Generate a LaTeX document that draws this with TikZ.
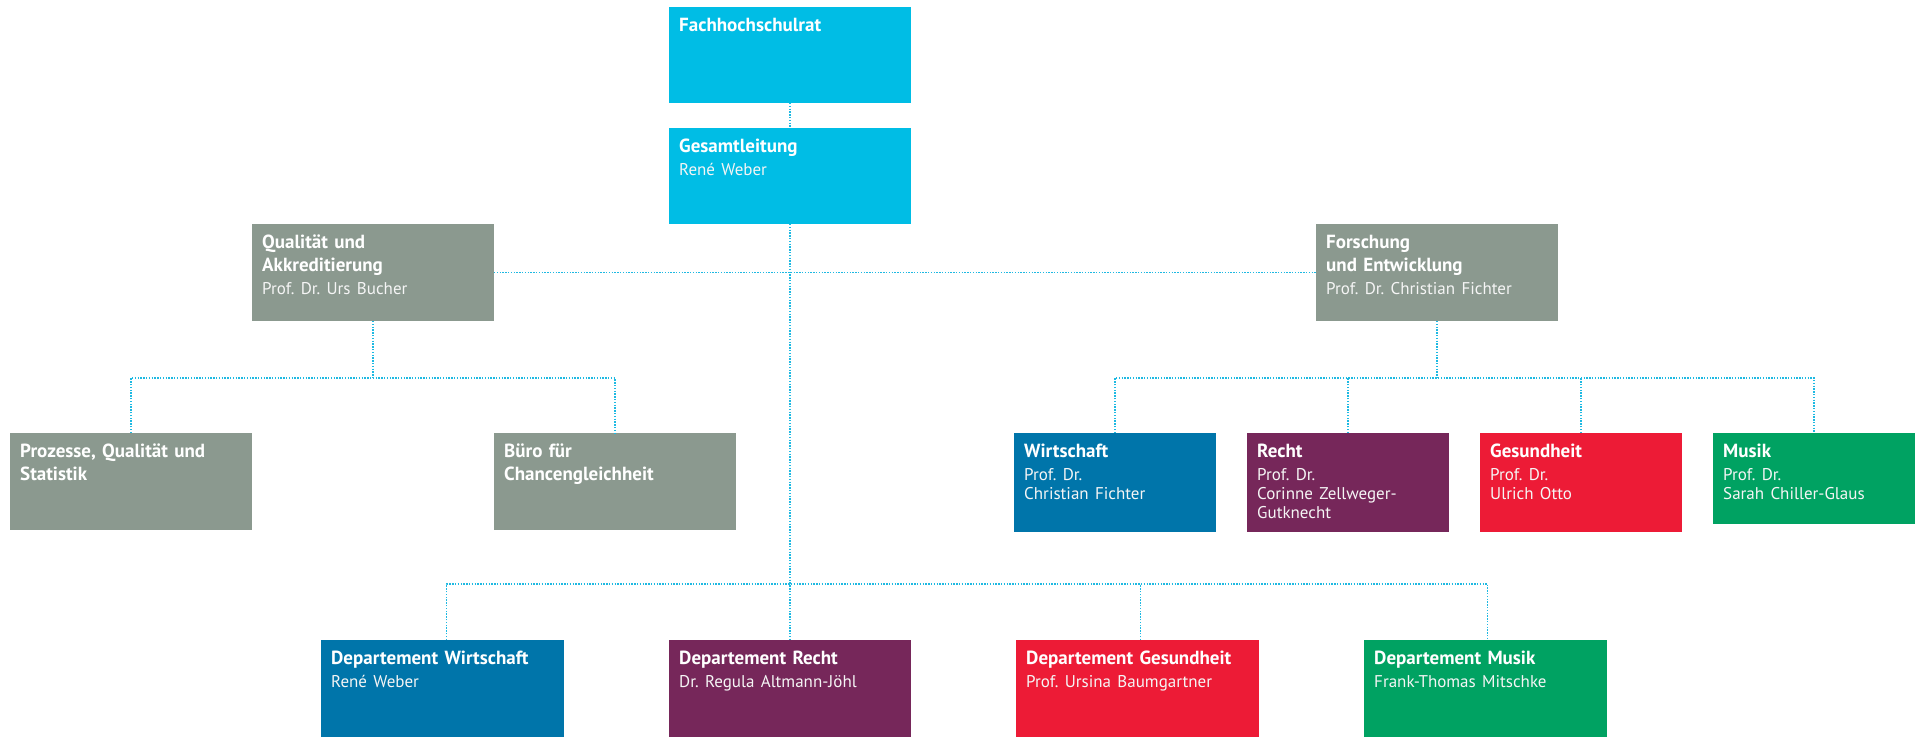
\documentclass[tikz,border=0pt]{standalone}
\usepackage{fontspec}
\setmainfont{PT Sans}
\frenchspacing
\definecolor{cCyan}{HTML}{00BDE5}
\definecolor{cGrey}{HTML}{8B998F}
\definecolor{cBlue}{HTML}{0075AA}
\definecolor{cPurple}{HTML}{76275A}
\definecolor{cRed}{HTML}{ED1B36}
\definecolor{cGreen}{HTML}{00A262}
\definecolor{cLine}{HTML}{1EB9E2}
\newcommand\ttl[1]{{\bfseries\fontsize{19}{23}\selectfont #1\par}}
\newcommand\nm[1]{\vspace{4pt}{\fontsize{17}{19}\selectfont\color{white!96!black} #1\par}}
\newcommand\orgbox[7]{%
  \node[orgbox, fill=#6, minimum width=#4pt, minimum height=#5pt] (#1) at (#2,#3) {};
  \node[boxtext] (#1-t) at (#2+10,#3+24) {#7};
}
\begin{document}
\begin{tikzpicture}[x=1pt, y=-1pt,
  orgbox/.style={draw=none, rectangle, inner sep=0pt, outer sep=0pt, anchor=north west},
  boxtext/.style={anchor=base west, inner sep=0pt, text width=236pt, align=left,
    text=white, font=\fontsize{19}{23}\selectfont},
  conn/.style={draw=cLine, line width=1.5pt, dash pattern=on 1.4pt off 1.4pt}]
\useasboundingbox (0,0) rectangle (1921,737);

% top
\orgbox{fhr}{669}{7}{242}{96}{cCyan}{\ttl{Fachhochschulrat}}
\orgbox{gl}{669}{128}{242}{96}{cCyan}{\ttl{Gesamtleitung}\nm{René Weber}}
% staff
\orgbox{qa}{252}{224}{242}{97}{cGrey}{\ttl{Qualität und\\Akkreditierung}\nm{Prof. Dr. Urs Bucher}}
\orgbox{fe}{1316}{224}{242}{97}{cGrey}{\ttl{Forschung\\und Entwicklung}\nm{Prof. Dr. Christian Fichter}}
% under Qualität
\orgbox{pqs}{10}{433}{242}{97}{cGrey}{\ttl{Prozesse, Qualität und\\Statistik}}
\orgbox{bfc}{494}{433}{242}{97}{cGrey}{\ttl{Büro für\\Chancengleichheit}}
% under Forschung
\orgbox{fw}{1014}{433}{202}{99}{cBlue}{\ttl{Wirtschaft}\nm{Prof. Dr.\\Christian Fichter}}
\orgbox{fr}{1247}{433}{202}{99}{cPurple}{\ttl{Recht}\nm{Prof. Dr.\\Corinne Zellweger-\\Gutknecht}}
\orgbox{fg}{1480}{433}{202}{99}{cRed}{\ttl{Gesundheit}\nm{Prof. Dr.\\Ulrich Otto}}
\orgbox{fm}{1713}{433}{202}{91}{cGreen}{\ttl{Musik}\nm{Prof. Dr.\\Sarah Chiller-Glaus}}
% departments
\orgbox{dw}{321}{640}{243}{97}{cBlue}{\ttl{Departement Wirtschaft}\nm{René Weber}}
\orgbox{dr}{669}{640}{242}{97}{cPurple}{\ttl{Departement Recht}\nm{Dr. Regula Altmann-Jöhl}}
\orgbox{dg}{1016}{640}{243}{97}{cRed}{\ttl{Departement Gesundheit}\nm{Prof. Ursina Baumgartner}}
\orgbox{dm}{1364}{640}{243}{97}{cGreen}{\ttl{Departement Musik}\nm{Frank-Thomas Mitschke}}

% connectors
\coordinate (qbus) at (0,378);
\coordinate (dbus) at (0,584);
\draw[conn] (fhr.south) -- (gl.north);
\draw[conn] (qa.east) -- (fe.west);
\draw[conn] (gl.south) -- (gl.south |- dbus);
\draw[conn] (qa.south) -- (qa.south |- qbus);
\draw[conn] (pqs.north) -- (pqs.north |- qbus) -- (bfc.north |- qbus) -- (bfc.north);
\draw[conn] (fe.south) -- (fe.south |- qbus);
\draw[conn] (fw.north) -- (fw.north |- qbus) -- (fm.north |- qbus) -- (fm.north);
\draw[conn] (fr.north) -- (fr.north |- qbus);
\draw[conn] (fg.north) -- (fg.north |- qbus);
\draw[conn] ([xshift=4pt]dw.north) -- ([xshift=4pt]dw.north |- dbus) -- ([xshift=2pt]dm.north |- dbus) -- ([xshift=2pt]dm.north);
\draw[conn] (dr.north) -- (dr.north |- dbus);
\draw[conn] ([xshift=3pt]dg.north) -- ([xshift=3pt]dg.north |- dbus);
\end{tikzpicture}
\end{document}
